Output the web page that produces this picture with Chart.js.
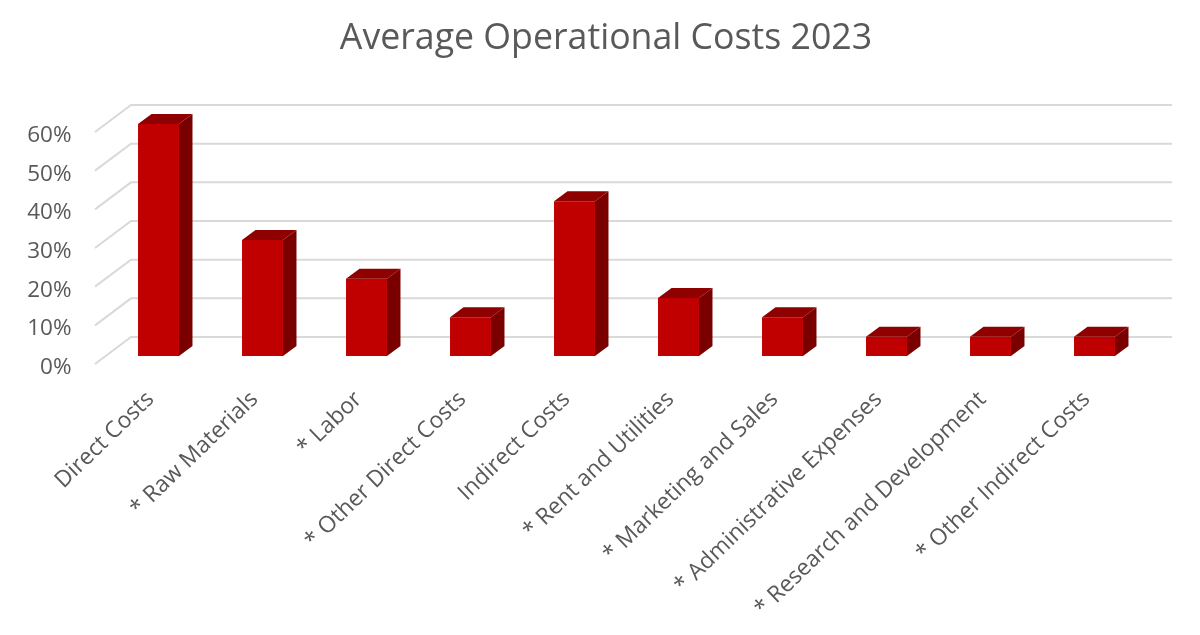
<!DOCTYPE html>
<html><head><meta charset="utf-8">
<style>html,body{margin:0;padding:0;background:#fff}#w{width:1200px;height:635px;position:relative}</style>
<script src="https://cdn.jsdelivr.net/npm/chart.js@4"></script>
</head><body><div id="w"><canvas id="c" width="1200" height="635"></canvas></div>
<script>
const categories = ["Direct Costs","* Raw Materials","* Labor","* Other Direct Costs","Indirect Costs","* Rent and Utilities","* Marketing and Sales","* Administrative Expenses","* Research and Development","* Other Indirect Costs"];
const values = [60,30,20,10,40,15,10,5,5,5];
const titleText = "Average Operational Costs 2023";
const yTicks = [0,10,20,30,40,50,60];

const depth = {bx:13.5, by:-10};
const grid = {backX:131, backRight:1172, backDy:-19, frontX:95, frontDy:8};
const FONT = "'Open Sans', 'Noto Sans', sans-serif";

const threeD = {
  id:'threeD',
  beforeDatasetsDraw(chart){
    const {ctx, scales:{y}} = chart;
    ctx.save();
    ctx.strokeStyle = '#d9d9d9';
    ctx.lineWidth = 2;
    yTicks.forEach(t=>{
      const p = y.getPixelForValue(t);
      ctx.beginPath();
      ctx.moveTo(grid.frontX, p+grid.frontDy);
      ctx.lineTo(grid.backX, p+grid.backDy);
      ctx.lineTo(grid.backRight, p+grid.backDy);
      ctx.stroke();
    });
    ctx.restore();
  },
  afterDatasetsDraw(chart){
    const {ctx} = chart;
    const meta = chart.getDatasetMeta(0);
    ctx.save();
    meta.data.forEach(bar=>{
      const l = bar.x-bar.width/2, r = bar.x+bar.width/2, t = bar.y, b = bar.base;
      ctx.fillStyle = '#7a0000';
      ctx.beginPath();
      ctx.moveTo(r,t);ctx.lineTo(r+depth.bx,t+depth.by);ctx.lineTo(r+depth.bx,b+depth.by);ctx.lineTo(r,b);
      ctx.closePath();ctx.fill();
      ctx.fillStyle = '#8f0000';
      ctx.beginPath();
      ctx.moveTo(l,t);ctx.lineTo(l+depth.bx,t+depth.by);ctx.lineTo(r+depth.bx,t+depth.by);ctx.lineTo(r,t);
      ctx.closePath();ctx.fill();
    });
    ctx.restore();
  }
};

new Chart(document.getElementById('c'),{
  type:'bar',
  data:{labels:categories,datasets:[{data:values,yAxisID:'y',backgroundColor:'#c00000',borderWidth:0,barPercentage:0.394,categoryPercentage:1}]},
  plugins:[threeD],
  options:{
    responsive:false,animation:false,
    layout:{padding:{left:12,right:0,top:0,bottom:0}},
    plugins:{
      legend:{display:false},tooltip:{enabled:false},
      title:{display:true,text:titleText,color:'#595959',font:{family:FONT,size:35.7,weight:'normal'},padding:{top:17.5,bottom:63.66}}
    },
    scales:{
      x:{
        grid:{display:false},border:{display:false},
        ticks:{color:'#595959',font:{family:FONT,size:22.8},autoSkip:false,minRotation:44,maxRotation:44,padding:22,labelOffset:-8},
        afterFit(s){s.height=279;s.paddingLeft=0;s.paddingRight=0;}
      },
      y:{
        min:0,max:60,
        grid:{display:false},border:{display:false},
        ticks:{color:'#595959',font:{family:FONT,size:22.5},stepSize:10,padding:27,labelOffset:11.5,callback:v=>v+'%'},
        afterFit(s){s.width=94.5;s.paddingTop=0;s.paddingBottom=0;}
      },
      yRight:{
        position:'right',min:0,max:60,
        grid:{display:false},border:{display:false},
        ticks:{display:false},
        afterFit(s){s.width=53.5;s.paddingTop=0;s.paddingBottom=0;}
      }
    }
  }
});
</script></body></html>
